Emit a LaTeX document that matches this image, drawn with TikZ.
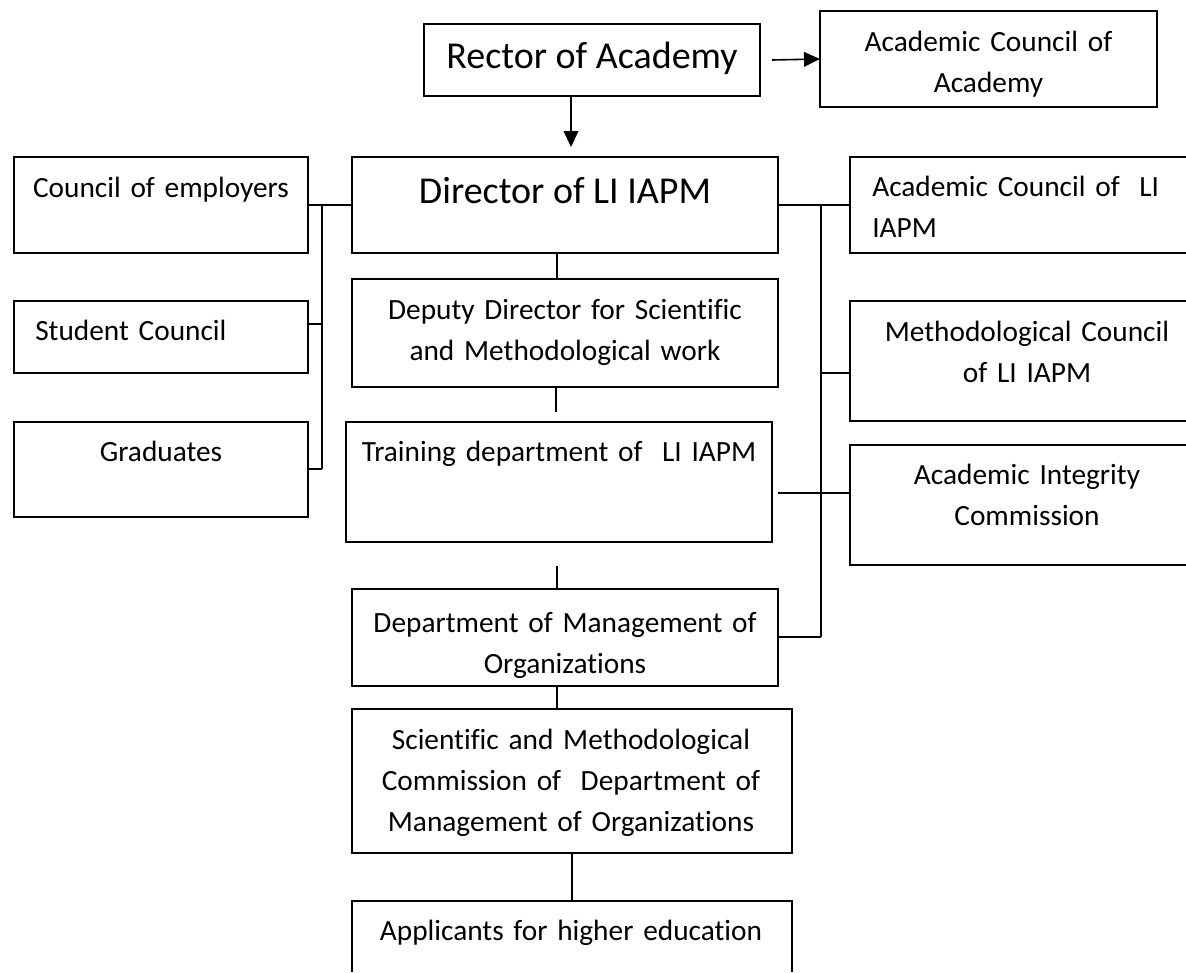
\documentclass[tikz,border=0pt]{standalone}
\usepackage{fontspec}
\setmainfont{Carlito}[Ligatures=NoCommon]
\usetikzlibrary{arrows.meta,fit}
\begin{document}
\begin{tikzpicture}[x=0.75pt,y=-0.75pt,
  box/.style={draw, line width=1.3pt, inner sep=0pt, outer sep=0pt},
  openbox/.style={inner sep=0pt, outer sep=0pt},
  side/.style={line width=1.3pt},
  edge/.style={line width=1.2pt},
  arr/.style={line width=1.2pt, -{Triangle[length=12pt,width=11pt]}},
  txt/.style={inner sep=0pt, anchor=base, align=center, text width=310pt, font=\fontsize{22}{30.75}\selectfont},
  ltxt/.style={inner sep=0pt, anchor=base west, align=left, text width=200pt, font=\fontsize{22}{30.75}\selectfont},
  big/.style={inner sep=0pt, anchor=base, font=\fontsize{28.5}{34}\selectfont},
]
\useasboundingbox (0,0) rectangle (1186,972);
\coordinate (rx) at (1186,0);
\coordinate (by) at (0,972);

% boxes
\node[box, fit={(424,24)(760,96)}] (rector) {};
\node[box, fit={(820,11)(1157,107)}] (acad) {};
\node[box, fit={(352,157)(778,253)}] (dir) {};
\node[box, fit={(352,279)(778,387)}] (dep) {};
\node[box, fit={(346,422)(772,542)}] (train) {};
\node[box, fit={(352,589)(778,686)}] (dept) {};
\node[box, fit={(352,709)(792,853)}] (smc) {};
\node[openbox, fit={(352,901)(792,990)}] (appl) {};
\draw[side] (appl.south west |- by) -- (appl.north west) -- (appl.north east) -- (appl.south east |- by);
\node[box, fit={(14,157)(308,253)}] (emp) {};
\node[box, fit={(14,301)(308,373)}] (stu) {};
\node[box, fit={(14,422)(308,517)}] (grad) {};
\node[openbox, fit={(850,157)(1204,253)}] (aclia) {};
\node[openbox, fit={(850,301)(1204,421)}] (meth) {};
\node[openbox, fit={(850,445)(1204,565)}] (integ) {};
\foreach \n in {aclia,meth,integ}{
  \draw[side] (\n.north west -| rx) -- (\n.north west) -- (\n.south west) -- (\n.south west -| rx);
}

% texts
\node[big] (t-rector) at (592,68) {Rector of Academy};
\node[txt, text width=240pt] (t-acad) at (988.5,51) {Academic Council of\\Academy};
\node[big] (t-dir) at (565,203) {Director of LI IAPM};
\node[txt] (t-dep) at (565,319) {Deputy Director for Scientific\\and Methodological work};
\node[txt] (t-tr) at (559,461) {Training department of\ \ LI IAPM};
\node[txt] (t-dept) at (565,632) {Department of Management of\\Organizations};
\node[txt, text width=320pt] (t-smc) at (571,749) {Scientific and Methodological\\Commission of\ \ Department of\\Management of Organizations};
\node[txt, text width=320pt] (t-appl) at (571,940) {Applicants for higher education};
\node[txt, text width=200pt] (t-emp) at (161,197) {Council of employers};
\node[ltxt, text width=180pt] (t-stu) at (35,340) {Student Council};
\node[txt, text width=200pt] (t-grad) at (161,461) {Graduates};
\node[ltxt, text width=230pt] (t-aclia) at (872,196) {Academic Council of\ \ LI\\IAPM};
\node[txt, text width=240pt] (t-meth) at (1027,341) {Methodological Council\\of LI IAPM};
\node[txt, text width=240pt] (t-integ) at (1027,484) {Academic Integrity\\Commission};

% coordinates for connector free ends / bus points
\coordinate (dtip) at (571,147);
\coordinate (lb1) at (322,205);
\coordinate (lb2) at (322,324);
\coordinate (lb3) at (322,469);
\coordinate (rb1) at (821,205);
\coordinate (rb2) at (821,373);
\coordinate (rb3) at (821,637);
\coordinate (tr1) at (778,493);
\coordinate (v1) at (557,0);
\coordinate (v2a) at (556,412);
\coordinate (v3a) at (557,566);
\coordinate (v5) at (572,0);

% arrows
\draw[arr] ([xshift=9pt]rector.east) -- (acad.west);
\draw[arr] (rector.south -| dtip) -- (dtip);

% left bus
\draw[edge] (emp.east) -- (dir.west);
\draw[edge] (lb1) -- (lb3);
\draw[edge] (stu.east |- lb2) -- (lb2);
\draw[edge] (grad.east |- lb3) -- (lb3);

% right bus
\draw[edge] (dir.east) -- (aclia.west);
\draw[edge] (rb1) -- (rb3);
\draw[edge] (rb2) -- (meth.west |- rb2);
\draw[edge] (tr1) -- (integ.west |- tr1);
\draw[edge] (dept.east |- rb3) -- (rb3);

% vertical chain
\draw[edge] (dir.south -| v1) -- (dep.north -| v1);
\draw[edge] (dep.south -| v2a) -- (v2a);
\draw[edge] (v3a) -- (dept.north -| v3a);
\draw[edge] (dept.south -| v1) -- (smc.north -| v1);
\draw[edge] (smc.south -| v5) -- (appl.north -| v5);
\end{tikzpicture}
\end{document}
